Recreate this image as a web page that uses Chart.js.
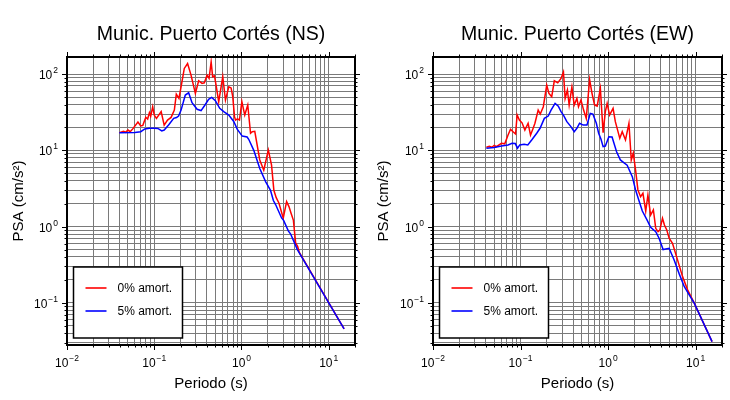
<!DOCTYPE html>
<html>
<head>
<meta charset="utf-8">
<script src="https://cdn.jsdelivr.net/npm/chart.js@4.4.1/dist/chart.umd.min.js"></script>
<style>
html, body { margin: 0; padding: 0; background: #fff; }
#wrap { display: flex; width: 730px; height: 400px; }
.box { width: 365px; height: 400px; }
</style>
</head>
<body>
<div id="wrap">
  <div class="box"><canvas id="chartNS" width="365" height="400"></canvas></div>
  <div class="box"><canvas id="chartEW" width="365" height="400"></canvas></div>
</div>
<script>
// Data
const nsPeriod0 = [0.0398,0.0444,0.047,0.05,0.053,0.057,0.065,0.07,0.074,0.08,0.084,0.088,0.091,0.096,0.1,0.106,0.12,0.13,0.142,0.156,0.17,0.179,0.192,0.203,0.221,0.241,0.264,0.296,0.323,0.353,0.375,0.403,0.425,0.449,0.467,0.49,0.51,0.548,0.61,0.655,0.715,0.76,0.794,0.832,0.853,0.9,0.948,1.01,1.09,1.18,1.27,1.33,1.42,1.62,1.8,2.03,2.21,2.35,2.5,2.69,3.01,3.29,3.5,3.7,3.93,4.18,4.4,4.6,15];
const nsPsa0 = [17.1,17.8,17.3,18.5,17.6,19.3,23.6,20.9,21.3,27.2,25.8,31.2,28.0,37.4,29.1,26.3,32.2,21.5,25,27.1,33.8,54.8,48.2,68.4,119,138,97.3,56,82,75.7,77,97,88,145,92.5,95,73,43.5,92.5,45.7,68.4,66,50.6,27.7,25,26,25,43.5,29.1,39.4,16.8,17.6,17.8,7.5,5.5,10.1,6.4,3.0,2.4,2.03,1.29,2.13,1.83,1.5,1.22,0.606,0.55,0.46,0.0456];

const nsPeriod5 = [0.0398,0.06,0.07,0.078,0.088,0.1,0.11,0.122,0.13,0.146,0.167,0.18,0.19,0.203,0.227,0.248,0.271,0.31,0.344,0.385,0.42,0.456,0.502,0.563,0.626,0.715,0.815,0.893,1.02,1.16,1.21,1.38,1.62,1.89,2.15,2.32,2.46,2.88,3.05,3.44,3.66,4.37,15];
const nsPsa5 = [17.1,17.2,17.6,19.1,19.5,19.5,19.4,18,18.5,21.5,26.3,27,28.2,33.8,53.2,57,42.2,34.6,33.3,40,46.7,49.5,45,35.6,32.2,29,24,19,15.4,15,14,10.1,5.8,3.9,3.0,2.2,1.95,1.3,1.2,0.88,0.8,0.5,0.0456];

const ewPeriod0 = [0.0407,0.044,0.047,0.05,0.053,0.0605,0.066,0.072,0.0768,0.082,0.0877,0.0914,0.097,0.104,0.112,0.122,0.13,0.138,0.146,0.159,0.168,0.182,0.199,0.211,0.227,0.243,0.266,0.29,0.309,0.323,0.343,0.359,0.386,0.41,0.44,0.459,0.49,0.525,0.563,0.615,0.655,0.70,0.75,0.816,0.877,0.93,0.975,1.04,1.14,1.21,1.36,1.45,1.58,1.73,1.84,1.94,2.06,2.19,2.35,2.5,2.69,2.85,3.06,3.29,3.5,3.72,3.9,4.18,4.4,4.68,4.98,5.44,6.21,7.09,8.09,9.64,15.4];
const ewPsa0 = [11,11.3,11.0,11.6,11.2,12.4,12.2,15.9,18.9,17.6,16.4,29.1,25,23,18.5,22.7,15.9,19,22.7,33.8,30,37.4,72,56,50.6,81.9,77,88,107,48,62,39.4,68,39.4,48,37.4,45.7,33.8,26.3,85,56,39.4,38,65,17.1,32.2,41.4,29.1,35.6,23.8,14.4,17.6,13.7,22.7,7.5,9.2,5.5,3.03,2.47,2.74,1.6,2.6,1.42,1.66,0.95,0.86,0.9,1.29,1.05,0.905,0.705,0.606,0.366,0.221,0.148,0.099,0.031];

const ewPeriod5 = [0.0407,0.05,0.0605,0.072,0.08,0.087,0.0924,0.098,0.11,0.121,0.134,0.153,0.167,0.187,0.207,0.223,0.248,0.27,0.29,0.309,0.338,0.376,0.41,0.44,0.472,0.52,0.574,0.626,0.67,0.734,0.78,0.83,0.877,0.93,1.02,1.11,1.25,1.38,1.51,1.65,1.89,2.06,2.25,2.46,2.81,3.06,3.5,3.82,4.25,4.98,5.68,6.49,7.4,8.44,9.64,15.4];
const ewPsa5 = [10.7,10.9,11.4,11.8,12.4,12.3,10.7,11.8,12.0,11.8,13.7,16.8,19.5,26.3,28.2,33.8,41.4,38,32.2,29.1,23.8,20.5,17.6,19.5,22.7,21.5,21.5,30.6,30,22.7,16.8,14,11.2,11.4,15.1,15,9.6,7.5,6.9,6.4,4.52,3.03,2.2,1.6,1.2,0.98,0.86,0.705,0.5,0.52,0.366,0.24,0.164,0.127,0.099,0.031];

// Axes
const xMin = 0.01, xMax = 20;
const yMin = 0.028, yMax = 168;
const xMajor = [0.01, 0.1, 1, 10];
const xMajorExp = ['\u22122', '\u22121', '0', '1'];
const yMajor = [0.1, 1, 10, 100];
const yMajorExp = ['\u22121', '0', '1', '2'];

const seriesLabels = ['0% amort.', '5% amort.'];
const seriesColors = ['#ff0000', '#0000ff'];

const FONT = "'Liberation Sans', Arial, Helvetica, sans-serif";

// 1..9 x 10^n inside [min, max]
function logTicks(min, max) {
    const out = [];
    for (let e = Math.floor(Math.log10(min)); e <= Math.ceil(Math.log10(max)); e++) {
        for (let m = 1; m <= 9; m++) {
            const v = Number((m * Math.pow(10, e)).toPrecision(6));
            if (v >= min - 1e-12 && v <= max + 1e-12) out.push(v);
        }
    }
    return out;
}

function isMajor(v) {
    const l = Math.log10(v);
    return Math.abs(l - Math.round(l)) < 1e-6;
}

function toPoints(xs, ys) {
    return xs.map((x, i) => ({ x: x, y: ys[i] }));
}

// Draws frame, ticks, labels, titles and legend box (GMT look)
const gmtFrame = {
    id: 'gmtFrame',
    afterDraw(chart, args, opts) {
        const { ctx, chartArea: a, scales } = chart;
        const xs = scales.x, ys = scales.y;
        ctx.save();

        // outward ticks on all four sides
        ctx.strokeStyle = '#000';
        ctx.lineWidth = 1;
        ctx.beginPath();
        xs.ticks.forEach(t => {
            const px = Math.round(xs.getPixelForValue(t.value)) + 0.5;
            const len = isMajor(t.value) ? 5 : 2.5;
            ctx.moveTo(px, a.bottom); ctx.lineTo(px, a.bottom + len);
            ctx.moveTo(px, a.top); ctx.lineTo(px, a.top - len);
        });
        ys.ticks.forEach(t => {
            const py = Math.round(ys.getPixelForValue(t.value)) + 0.5;
            const len = isMajor(t.value) ? 5 : 2.5;
            ctx.moveTo(a.left, py); ctx.lineTo(a.left - len, py);
            ctx.moveTo(a.right, py); ctx.lineTo(a.right + len, py);
        });
        ctx.stroke();

        // frame
        ctx.lineWidth = 2;
        ctx.strokeRect(a.left, a.top, a.right - a.left, a.bottom - a.top);

        // tick labels 10^n
        ctx.fillStyle = '#000';
        ctx.textBaseline = 'alphabetic';
        const baseFont = '12px ' + FONT, expFont = '8.5px ' + FONT;
        xMajor.forEach((v, i) => {
            ctx.font = baseFont;
            const w1 = ctx.measureText('10').width;
            ctx.font = expFont;
            const w2 = ctx.measureText(xMajorExp[i]).width;
            const cx = xs.getPixelForValue(v);
            const left = cx - (w1 + w2 + 1) / 2;
            ctx.textAlign = 'left';
            ctx.font = baseFont;
            ctx.fillText('10', left, a.bottom + 22);
            ctx.font = expFont;
            ctx.fillText(xMajorExp[i], left + w1 + 1, a.bottom + 16);
        });
        yMajor.forEach((v, i) => {
            ctx.font = expFont;
            const w2 = ctx.measureText(yMajorExp[i]).width;
            const right = a.left - 9;
            const cy = ys.getPixelForValue(v);
            ctx.textAlign = 'right';
            ctx.fillText(yMajorExp[i], right, cy - 1);
            ctx.font = baseFont;
            ctx.fillText('10', right - w2 - 1, cy + 5);
        });

        // axis titles
        ctx.textAlign = 'center';
        ctx.font = '15px ' + FONT;
        ctx.fillText('Periodo (s)', (a.left + a.right) / 2, a.bottom + 43);
        ctx.save();
        ctx.translate(opts.yTitleX, (a.top + a.bottom) / 2);
        ctx.rotate(-Math.PI / 2);
        ctx.fillText('PSA (cm/s\u00B2)', 0, 0);
        ctx.restore();

        // chart title
        ctx.font = '19.5px ' + FONT;
        ctx.fillText(opts.title, (a.left + a.right) / 2, a.top - 17);

        // legend box
        const bx = a.left + 6.5, by = a.bottom - 78, bw = 109, bh = 71;
        ctx.fillStyle = '#fff';
        ctx.fillRect(bx, by, bw, bh);
        ctx.strokeStyle = '#000';
        ctx.lineWidth = 1.5;
        ctx.strokeRect(bx, by, bw, bh);
        ctx.font = '12px ' + FONT;
        ctx.textAlign = 'left';
        chart.data.datasets.forEach((ds, i) => {
            const ly = by + 21 + i * 23;
            ctx.strokeStyle = ds.borderColor;
            ctx.lineWidth = 1.6;
            ctx.beginPath();
            ctx.moveTo(bx + 12, ly); ctx.lineTo(bx + 33, ly);
            ctx.stroke();
            ctx.fillStyle = '#000';
            ctx.fillText(ds.label, bx + 44, ly + 4);
        });

        ctx.restore();
    }
};

function makeChart(id, title, t0, v0, t5, v5, padLeft, padRight) {
    const ctx = document.getElementById(id).getContext('2d');
    return new Chart(ctx, {
        type: 'line',
        data: {
            datasets: [
                {
                    label: seriesLabels[0],
                    data: toPoints(t0, v0),
                    borderColor: seriesColors[0],
                    borderWidth: 1.5,
                    pointRadius: 0,
                    tension: 0,
                    order: 2
                },
                {
                    label: seriesLabels[1],
                    data: toPoints(t5, v5),
                    borderColor: seriesColors[1],
                    borderWidth: 1.5,
                    pointRadius: 0,
                    tension: 0,
                    order: 1
                }
            ]
        },
        options: {
            responsive: false,
            animation: false,
            events: [],
            layout: { padding: { left: padLeft, right: padRight, top: 57, bottom: 55 } },
            plugins: {
                legend: { display: false },
                tooltip: { enabled: false },
                gmtFrame: { title: title, yTitleX: 23 }
            },
            scales: {
                x: {
                    type: 'logarithmic',
                    min: xMin,
                    max: xMax,
                    afterBuildTicks: s => { s.ticks = logTicks(xMin, xMax).map(v => ({ value: v })); },
                    ticks: { display: false },
                    grid: { color: '#7a7a7a', lineWidth: 1, drawTicks: false },
                    border: { display: false }
                },
                y: {
                    type: 'logarithmic',
                    min: yMin,
                    max: yMax,
                    afterBuildTicks: s => { s.ticks = logTicks(yMin, yMax).map(v => ({ value: v })); },
                    ticks: { display: false },
                    grid: { color: '#7a7a7a', lineWidth: 1, drawTicks: false },
                    border: { display: false }
                }
            }
        },
        plugins: [gmtFrame]
    });
}

makeChart('chartNS', 'Munic. Puerto Cort\u00E9s (NS)', nsPeriod0, nsPsa0, nsPeriod5, nsPsa5, 67, 10);
makeChart('chartEW', 'Munic. Puerto Cort\u00E9s (EW)', ewPeriod0, ewPsa0, ewPeriod5, ewPsa5, 68, 8);
</script>
</body>
</html>
